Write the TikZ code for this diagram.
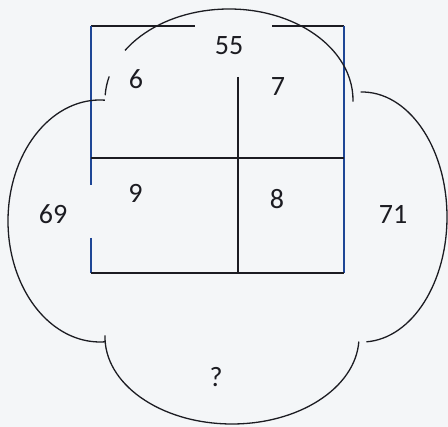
\documentclass[tikz,border=0pt]{standalone}
\usepackage{fontspec}
\setmainfont{Carlito}
\definecolor{bgcol}{RGB}{244,246,248}
\definecolor{inkcol}{RGB}{28,28,34}
\definecolor{sidecol}{RGB}{30,70,150}
\tikzset{
  sqline/.style={draw=inkcol, line width=1.4pt},
  sideline/.style={draw=sidecol, line width=1.4pt},
  arcline/.style={draw=inkcol, line width=1.3pt},
  numlabel/.style={text=inkcol, font=\fontsize{28}{30}\selectfont, inner sep=0pt}
}
\begin{document}
\begin{tikzpicture}[x=1pt,y=1pt]
\fill[bgcol] (0,0) rectangle (448,427);
\useasboundingbox (0,0) rectangle (448,427);
% square corners
\coordinate (TL) at (91,401);
\coordinate (TR) at (344,401);
\coordinate (BL) at (91,154);
\coordinate (BR) at (344,154);
\coordinate (TG1) at (195,401);
\coordinate (TG2) at (272,401);
\coordinate (LG1) at (91,242);
\coordinate (LG2) at (91,189);
\coordinate (ML) at (91,269);
\coordinate (MR) at (344,269);
\coordinate (VT) at (238,350);
\coordinate (VB) at (238,154);
% square lines
\draw[sqline] (TL) -- (TG1);
\draw[sqline] (TG2) -- (TR);
\draw[sideline] (TL) -- (LG1);
\draw[sideline] (LG2) -- (BL);
\draw[sideline] (TR) -- (BR);
\draw[sqline] (BL) -- (BR);
\draw[sqline] (ML) -- (MR);
\draw[sqline] (VT) -- (VB);
% arcs
\coordinate (ctop) at (229,327);
\coordinate (cleft) at (100,206);
\coordinate (cbot) at (232,90);
\coordinate (cright) at (362,210);
\draw[arcline] (ctop) ++(147:124 and 91) arc[start angle=147, end angle=-1, x radius=124, y radius=91];
\draw[arcline] (ctop) ++(165:124 and 91) arc[start angle=165, end angle=177, x radius=124, y radius=91];
\draw[arcline] (cleft) ++(87:92 and 121) arc[start angle=87, end angle=273, x radius=92, y radius=121];
\draw[arcline] (cbot) ++(179:127 and 87) arc[start angle=179, end angle=357, x radius=127, y radius=87];
\draw[arcline] (cright) ++(91:85 and 125) arc[start angle=91, end angle=-87, x radius=85, y radius=125];
% labels
\node[numlabel] (n55) at (229,381) {55};
\node[numlabel] (n6) at (136,348) {6};
\node[numlabel] (n7) at (278,340) {7};
\node[numlabel] (n9) at (135.5,234) {9};
\node[numlabel] (n8) at (277,228) {8};
\node[numlabel] (n69) at (53,213) {69};
\node[numlabel] (n71) at (393,213) {71};
\node[numlabel] (nq) at (216,50) {?};
\end{tikzpicture}
\end{document}
